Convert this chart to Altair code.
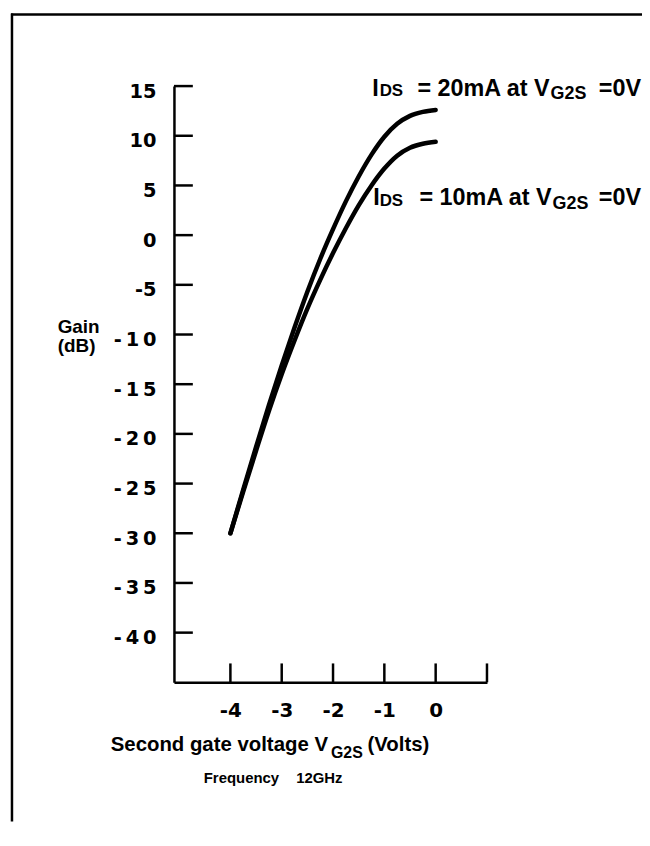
import altair as alt
import pandas as pd

# ---- data ----
V = [-4.0, -3.75, -3.5, -3.25, -3.0, -2.75, -2.5, -2.25, -2.0, -1.75, -1.5, -1.25, -1.0, -0.75, -0.5, -0.25, 0.0]
gain_20mA = [-30.0, -25.6, -21.3, -17.1, -13.1, -9.3, -5.7, -2.4, 0.6, 3.4, 5.9, 8.1, 9.9, 11.2, 12.0, 12.4, 12.6]
gain_10mA = [-30.0, -25.8, -21.7, -17.7, -14.0, -10.6, -7.4, -4.5, -1.8, 0.7, 3.0, 5.0, 6.7, 8.0, 8.8, 9.2, 9.4]
series_names = ["IDS = 20mA", "IDS = 10mA"]

y_tick_values = [15, 10, 5, 0, -5, -10, -15, -20, -25, -30, -35, -40]
x_label_values = [-4, -3, -2, -1, 0]
x_tick_values = [-4, -3, -2, -1, 0, 1]

curves = pd.DataFrame({
    "V": V + V,
    "gain": gain_20mA + gain_10mA,
    "series": [series_names[0]] * len(V) + [series_names[1]] * len(V),
})

W, H = 315, 600
x_scale = alt.Scale(domain=[-5.1, 1.0], nice=False, zero=False)
y_scale = alt.Scale(domain=[-45, 15], nice=False, zero=False)

y_expr = ("datum.value <= -10 ? '-\u2009' + floor(-datum.value / 10) + '\u2009' + (-datum.value % 10) : "
          "(datum.value < 0 ? '-' + (-datum.value) : '' + datum.value)")
x_expr = "datum.value < 0 ? '-' + (-datum.value) + '\u00a0\u00a0' : '' + datum.value"

x_axis = alt.Axis(values=x_label_values, ticks=False, tickSize=0, grid=False,
                  domainColor="black", domainWidth=2.5,
                  labelFont="DejaVu Sans", labelFontWeight="bold", labelFontSize=20,
                  labelColor="black", labelPadding=18, labelOverlap=False,
                  labelFlush=False, labelExpr=x_expr, title=None)
y_axis = alt.Axis(values=y_tick_values, ticks=False, tickSize=0, grid=False,
                  domainColor="black", domainWidth=2.5,
                  labelFont="DejaVu Sans", labelFontWeight="bold", labelFontSize=19.5,
                  labelColor="black", labelPadding=18, labelOffset=5, labelOverlap=False,
                  labelFlush=False, labelExpr=y_expr, title=None)

lines = alt.Chart(curves).mark_line(
    color="black", strokeWidth=4.5, interpolate="monotone", strokeCap="round"
).encode(
    x=alt.X("V:Q", scale=x_scale, axis=x_axis),
    y=alt.Y("gain:Q", scale=y_scale, axis=y_axis),
    detail="series:N",
)

y_ticks = alt.Chart(pd.DataFrame({"g": y_tick_values})).mark_rule(
    color="black", strokeWidth=2.5
).encode(
    y=alt.Y("g:Q", scale=y_scale, axis=y_axis),
    x=alt.value(0), x2=alt.value(19),
)

x_ticks = alt.Chart(pd.DataFrame({"v": x_tick_values})).mark_rule(
    color="black", strokeWidth=2.5
).encode(
    x=alt.X("v:Q", scale=x_scale, axis=x_axis),
    y=alt.value(H), y2=alt.value(H - 19),
)

one = pd.DataFrame({"a": [0]})


def txt(s, x, y, size, font="Liberation Sans", align="left"):
    return alt.Chart(one).mark_text(
        text=s, font=font, fontSize=size, fontWeight="bold", align=align,
        baseline="alphabetic", color="black"
    ).encode(x=alt.value(x), y=alt.value(y))


texts = [
    # upper curve label
    txt("I", 199.5, 9.5, 23.5),
    txt("DS", 207, 10, 17),
    txt("= 20mA at V", 378, 9.5, 23.5, align="right"),
    txt("G2S", 379, 13, 18),
    txt("=0V", 470, 9.5, 23.5, align="right"),
    # lower curve label
    txt("I", 200.5, 120, 23.5),
    txt("DS", 207, 121, 17),
    txt("= 10mA at V", 380, 120, 23.5, align="right"),
    txt("G2S", 381, 124, 18),
    txt("=0V", 470, 120, 23.5, align="right"),
    # y title
    txt("Gain", -117, 248, 19),
    txt("(dB)", -117, 268, 19),
    # x title
    txt("Second gate voltage V", 155, 669, 20.5, align="right"),
    txt("G2S", 158, 676, 16),
    txt("(Volts)", 257, 669, 20.5, align="right"),
    txt("Frequency", 30, 701, 15),
    txt("12GHz", 123, 701, 15),
]

frame_left = alt.Chart(one).mark_rule(color="black", strokeWidth=2.5).encode(
    x=alt.value(-163), y=alt.value(-73), y2=alt.value(740))
frame_top = alt.Chart(one).mark_rule(color="black", strokeWidth=2.5).encode(
    x=alt.value(-164), x2=alt.value(471), y=alt.value(-72))

chart = alt.layer(frame_left, frame_top, y_ticks, x_ticks, lines, *texts).properties(
    width=W, height=H,
    padding={"left": 167, "top": 76, "right": 156, "bottom": 140},
    autosize=alt.AutoSizeParams(type="none"),
    background="white",
).configure_view(stroke=None)

chart.save("out.html", embed_options={"renderer": "svg", "actions": False})
